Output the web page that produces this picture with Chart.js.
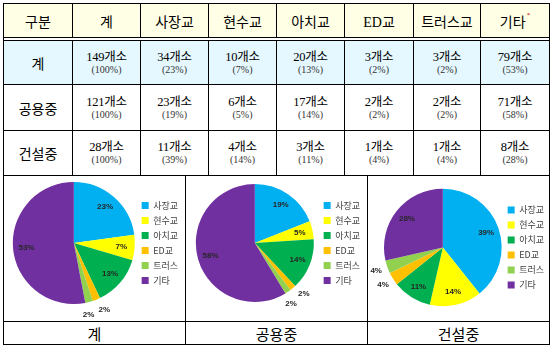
<!DOCTYPE html>
<html>
<head>
<meta charset="utf-8">
<script src="https://cdn.jsdelivr.net/npm/chart.js"></script>
<style>
body { margin:0; width:551px; height:348px; background:#fff; position:relative; overflow:hidden; }
.grid { position:absolute; left:3px; display:grid; gap:1px; background:#000; }
#tableTop { top:3px; padding:1px; grid-template-columns:68px 67px 67px 67px 67px 68px 66px 68px; grid-template-rows:33px 2px 43px 45px 44px; }
#tableBottom { top:176px; padding:0 1px 1px 1px; grid-template-columns:181px 181px 181px; grid-template-rows:145px 22px; }
.cell { background:#fff; display:flex; flex-direction:column; align-items:center; justify-content:center;
  font-family:"Liberation Serif","Noto Sans CJK KR"; color:#000; }
.head { background:#FFFFE5; font-size:14px; }
.blue { background:#E5F8FF; }
.rowname { font-size:14px; }
.num { font-size:12.5px; line-height:14px; letter-spacing:-0.3px; }
.pct { font-size:10px; line-height:12px; color:#333; }
.spacer { grid-column:1 / -1; background:#fff; }
.pie { position:relative; background:#fff; }
.pie canvas { position:absolute; left:-1px; top:-1px; }
.lab { font-family:"Noto Sans CJK KR"; font-size:15px; }
sup { font-size:7px; color:#c00000; vertical-align:top; margin-left:1px; }
</style>
</head>
<body>
<div id="tableTop" class="grid"></div>
<div id="tableBottom" class="grid"></div>
<script>
const headers = ['구분', '계', '사장교', '현수교', '아치교', 'ED교', '트러스교', '기타'];
const legendLabels = ['사장교', '현수교', '아치교', 'ED교', '트러스', '기타'];
const rowNames = ['계', '공용중', '건설중'];
const totalCounts = [34, 10, 20, 3, 3, 79];
const operCounts = [23, 6, 17, 2, 2, 71];
const constCounts = [11, 4, 3, 1, 1, 8];
const totalPct = [23, 7, 13, 2, 2, 53];
const operPct = [19, 5, 14, 2, 2, 58];
const constPct = [39, 14, 11, 4, 4, 28];
const colors = ['#00B0F0', '#FFFF00', '#00B050', '#FFC000', '#92D050', '#7030A0'];

const rows = [
  {name: rowNames[0], counts: totalCounts, pct: totalPct},
  {name: rowNames[1], counts: operCounts, pct: operPct},
  {name: rowNames[2], counts: constCounts, pct: constPct}
];

// table
const tableTop = document.getElementById('tableTop');
headers.forEach((h, i) => {
  const d = document.createElement('div');
  d.className = 'cell head';
  d.innerHTML = '<span>' + h + (i === headers.length - 1 ? '<sup>*</sup>' : '') + '</span>';
  tableTop.appendChild(d);
});
const sp = document.createElement('div');
sp.className = 'spacer';
tableTop.appendChild(sp);
rows.forEach((r, ri) => {
  const extra = ri === 0 ? ' blue' : '';
  const n = document.createElement('div');
  n.className = 'cell rowname' + extra;
  n.textContent = r.name;
  tableTop.appendChild(n);
  const sum = r.counts.reduce((a, b) => a + b, 0);
  const vals = [sum].concat(r.counts);
  const pcts = [100].concat(r.pct);
  vals.forEach((v, i) => {
    const c = document.createElement('div');
    c.className = 'cell' + extra;
    c.innerHTML = '<div class="num">' + v + '개소</div><div class="pct">(' + pcts[i] + '%)</div>';
    tableTop.appendChild(c);
  });
});

// small inline label plugin (no datalabels plugin available)
const pctLabels = {
  id: 'pctLabels',
  afterDatasetsDraw(chart, args, opts) {
    const ctx = chart.ctx;
    const arcs = chart.getDatasetMeta(0).data;
    const items = arcs.map((arc, i) => {
      const mid = (arc.startAngle + arc.endAngle) / 2;
      return {arc: arc, i: i, ang: mid, small: (arc.endAngle - arc.startAngle) < 0.28};
    });
    const small = items.filter(d => d.small);
    const minSep = 13 * Math.PI / 180;
    for (let k = 1; k < small.length; k++) {
      const a = small[k - 1], b = small[k];
      if (b.ang - a.ang < minSep) {
        const m = (a.ang + b.ang) / 2;
        a.ang = m - minSep / 2;
        b.ang = m + minSep / 2;
      }
    }
    ctx.save();
    ctx.font = 'bold 8px "Liberation Sans"';
    ctx.fillStyle = '#262626';
    ctx.textAlign = 'center';
    ctx.textBaseline = 'middle';
    items.forEach(d => {
      const r = d.arc.outerRadius * (d.small ? 1.2 : 0.78);
      ctx.fillText(opts.labels[d.i] + '%', d.arc.x + Math.cos(d.ang) * r, d.arc.y + Math.sin(d.ang) * r);
    });
    ctx.restore();
  }
};

// pie layouts per cell (canvas is wider than the cell so the legend has room)
const pieLayouts = [
  {left: 9, right: 15, top: 7, bottom: 17},
  {left: 7, right: 15, top: 9, bottom: 19},
  {left: 17, right: 13, top: 12, bottom: 13}
];

const tableBottom = document.getElementById('tableBottom');
const canvases = [];
rows.forEach(() => {
  const c = document.createElement('div');
  c.className = 'pie';
  const cv = document.createElement('canvas');
  cv.width = 200;
  cv.height = 146;
  c.appendChild(cv);
  tableBottom.appendChild(c);
  canvases.push(cv);
});
rows.forEach(r => {
  const l = document.createElement('div');
  l.className = 'cell lab';
  l.textContent = r.name;
  tableBottom.appendChild(l);
});

rows.forEach((r, i) => {
  new Chart(canvases[i].getContext('2d'), {
    type: 'pie',
    data: {
      labels: legendLabels,
      datasets: [{
        data: r.counts,
        backgroundColor: colors,
        borderWidth: 0
      }]
    },
    options: {
      responsive: false,
      animation: false,
      layout: {padding: pieLayouts[i]},
      plugins: {
        tooltip: {enabled: false},
        pctLabels: {labels: r.pct},
        legend: {
          position: 'right',
          labels: {
            boxWidth: 7,
            boxHeight: 7,
            padding: 6,
            color: '#404040',
            font: {family: '"Noto Sans CJK KR"', size: 9}
          }
        }
      }
    },
    plugins: [pctLabels]
  });
});
</script>
</body>
</html>
